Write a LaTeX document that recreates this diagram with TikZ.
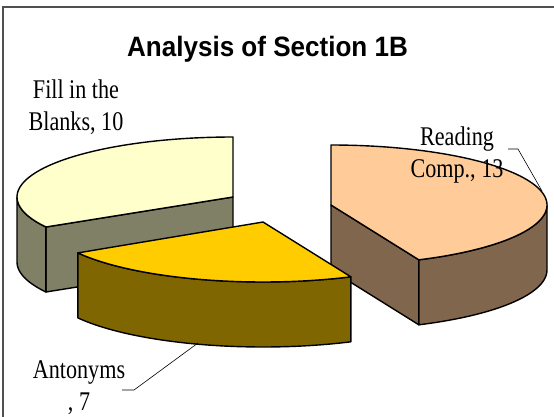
\documentclass[tikz,border=0pt]{standalone}
\usepackage{fontspec}
\newfontfamily\labfont[FakeStretch=0.82]{Liberation Serif}
\newfontfamily\titlefont[FakeStretch=0.93]{Liberation Sans}
\definecolor{creamtop}{HTML}{FFFFCC}
\definecolor{creamside}{HTML}{808066}
\definecolor{goldtop}{HTML}{FFCC00}
\definecolor{goldside}{HTML}{806600}
\definecolor{peachtop}{HTML}{FFCC99}
\definecolor{peachside}{HTML}{80664D}
\definecolor{framegray}{HTML}{505050}
\tikzset{
  face/.style={draw=black, line width=1.4pt, line join=round},
  leader/.style={draw=black, line width=0.6pt},
  lab/.style={font=\labfont\fontsize{27pt}{32pt}\selectfont, align=center, inner sep=0pt},
  ttl/.style={font=\titlefont\bfseries\fontsize{28pt}{32pt}\selectfont, inner sep=0pt}
}
\begin{document}
\begin{tikzpicture}[x=1pt,y=-1pt]
\useasboundingbox (0,0) rectangle (554,417);
\fill[white] (0,0) rectangle (554,417);
% frame
\draw[framegray, line width=1.5pt] (3,417) -- (3,7) -- (554,7);
% ---------- Fill in the Blanks (cream) ----------
% cut face
\filldraw[face, fill=creamside] (233,197) -- ({233+216*cos(150)},{197+60*sin(150)}) -- ++(0,65) -- (233,262) -- cycle;
% rim
\filldraw[face, fill=creamside] plot[domain=150:180, samples=20] ({233+216*cos(\x)},{197+60*sin(\x)})
  -- plot[domain=180:150, samples=20] ({233+216*cos(\x)},{262+60*sin(\x)}) -- cycle;
% top
\filldraw[face, fill=creamtop] (233,197) -- plot[domain=150:270, samples=60] ({233+216*cos(\x)},{197+60*sin(\x)}) -- cycle;
% ---------- Reading Comp. (peach) ----------
\filldraw[face, fill=peachside] (331,205) -- ({331+216*cos(66)},{205+60*sin(66)}) -- ++(0,65) -- (331,270) -- cycle;
\filldraw[face, fill=peachside] plot[domain=0:66, samples=30] ({331+216*cos(\x)},{205+60*sin(\x)})
  -- plot[domain=66:0, samples=30] ({331+216*cos(\x)},{270+60*sin(\x)}) -- cycle;
\filldraw[face, fill=peachtop] (331,205) -- plot[domain=-90:66, samples=80] ({331+216*cos(\x)},{205+60*sin(\x)}) -- cycle;
% ---------- Antonyms (gold) ----------
\filldraw[face, fill=goldside] plot[domain=66:149, samples=40] ({263+216*cos(\x)},{222+60*sin(\x)})
  -- plot[domain=149:66, samples=40] ({263+216*cos(\x)},{287+60*sin(\x)}) -- cycle;
\filldraw[face, fill=goldtop] (263,222) -- plot[domain=66:149, samples=40] ({263+216*cos(\x)},{222+60*sin(\x)}) -- cycle;
% ---------- title and labels ----------
\node[ttl, anchor=base] (title) at (267.5,57) {Analysis of Section 1B};
\node[lab] (fill) at (76,107) {Fill in the\\Blanks, 10};
\node[lab] (read) at (457,155) {Reading\\Comp., 13};
\node[lab] (anto) at (79,388) {Antonyms\\, 7};
% leaders
\coordinate (readA) at (508,149);
\coordinate (readB) at (518,149);
\coordinate (readC) at (542,191);
\draw[leader] (readA) -- (readB) -- (readC);
\coordinate (antoA) at (122,390);
\coordinate (antoB) at (134,390);
\coordinate (antoC) at (198,343);
\draw[leader] (antoA) -- (antoB) -- (antoC);
\end{tikzpicture}
\end{document}
